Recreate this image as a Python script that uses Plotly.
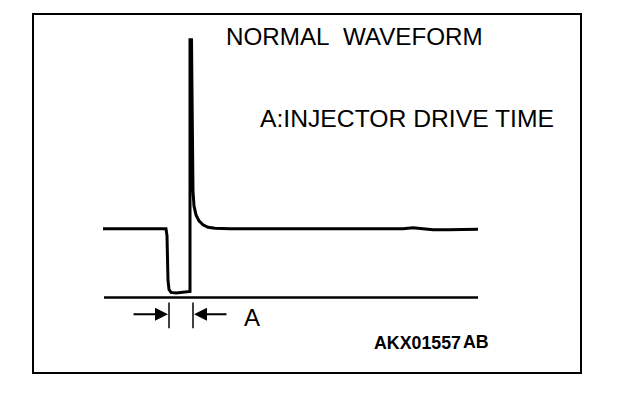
import plotly.graph_objects as go

# Waveform data (time units, voltage units); baseline = 0 V
time = [0, 63, 64, 65, 66, 68, 73, 82, 87, 87, 88.5, 90, 91, 93, 96, 100, 105,
        112, 127, 160, 200, 240, 300, 310, 330, 345, 360, 375]
volt = [69, 69, 62, 17, 8, 5, 4.5, 5.5, 6, 259, 259, 107, 92, 83, 77, 73, 70.5,
        69.5, 69, 69, 69, 69.5, 69, 70, 68, 68, 68.5, 68.5]

base_time = [1, 375]
base_volt = [0, 0]

# Injector drive time marker (start / end of drive)
drive_start = 66
drive_end = 90
marker_top = -5
marker_bottom = -31
arrow_level = -17
arrow_left_tail = 29
arrow_right_tail = 125

title_text = "NORMAL  WAVEFORM"
legend_text = "A:INJECTOR DRIVE TIME"
code_text = "AKX01557"
code_suffix = "AB"

FONT = "Liberation Sans, Arial, sans-serif"

fig = go.Figure()
fig.add_trace(go.Scatter(x=time, y=volt, mode="lines",
                         line=dict(color="black", width=3), hoverinfo="skip"))
fig.add_trace(go.Scatter(x=base_time, y=base_volt, mode="lines",
                         line=dict(color="black", width=2.5), hoverinfo="skip"))

for t in (drive_start, drive_end):
    fig.add_shape(type="line", x0=t, x1=t, y0=marker_top, y1=marker_bottom,
                  xref="x", yref="y", line=dict(color="black", width=1.5))

fig.add_annotation(x=drive_start - 1, y=arrow_level, ax=arrow_left_tail, ay=arrow_level,
                   xref="x", yref="y", axref="x", ayref="y", text="",
                   showarrow=True, arrowhead=2, arrowsize=1.3, arrowwidth=2,
                   arrowcolor="black")
fig.add_annotation(x=drive_end + 1, y=arrow_level, ax=arrow_right_tail, ay=arrow_level,
                   xref="x", yref="y", axref="x", ayref="y", text="",
                   showarrow=True, arrowhead=2, arrowsize=1.3, arrowwidth=2,
                   arrowcolor="black")

fig.add_annotation(x=149, y=-20.5, text="A", showarrow=False, xanchor="center",
                   yanchor="middle", font=dict(family=FONT, size=24, color="black"))
fig.add_annotation(x=121, y=262, text=title_text.replace("  ", "&nbsp; "), showarrow=False,
                   xanchor="left", yanchor="middle",
                   font=dict(family=FONT, size=24.2, color="black"))
fig.add_annotation(x=155, y=180, text=legend_text, showarrow=False,
                   xanchor="left", yanchor="middle",
                   font=dict(family=FONT, size=24.7, color="black"))
fig.add_annotation(x=269, y=-46, text="<b>" + code_text + "</b>", showarrow=False,
                   xanchor="left", yanchor="middle",
                   font=dict(family=FONT, size=17.8, color="black"))
fig.add_annotation(x=358, y=-45, text="<b>" + code_suffix + "</b>", showarrow=False,
                   xanchor="left", yanchor="middle",
                   font=dict(family=FONT, size=17.8, color="black"))

axis_common = dict(showgrid=False, zeroline=False, showticklabels=False, ticks="",
                   showline=True, mirror=True, linecolor="black", linewidth=2,
                   fixedrange=True)
fig.update_xaxes(range=[-69, 477], **axis_common)
fig.update_yaxes(range=[-75, 284], **axis_common)
# page body has an 8px default margin, so the figure is offset by 8px
fig.update_layout(width=616, height=396, margin=dict(l=26, r=44, t=5, b=32),
                  plot_bgcolor="white", paper_bgcolor="white", showlegend=False)

fig.write_html("out.html", config={"displayModeBar": False})
